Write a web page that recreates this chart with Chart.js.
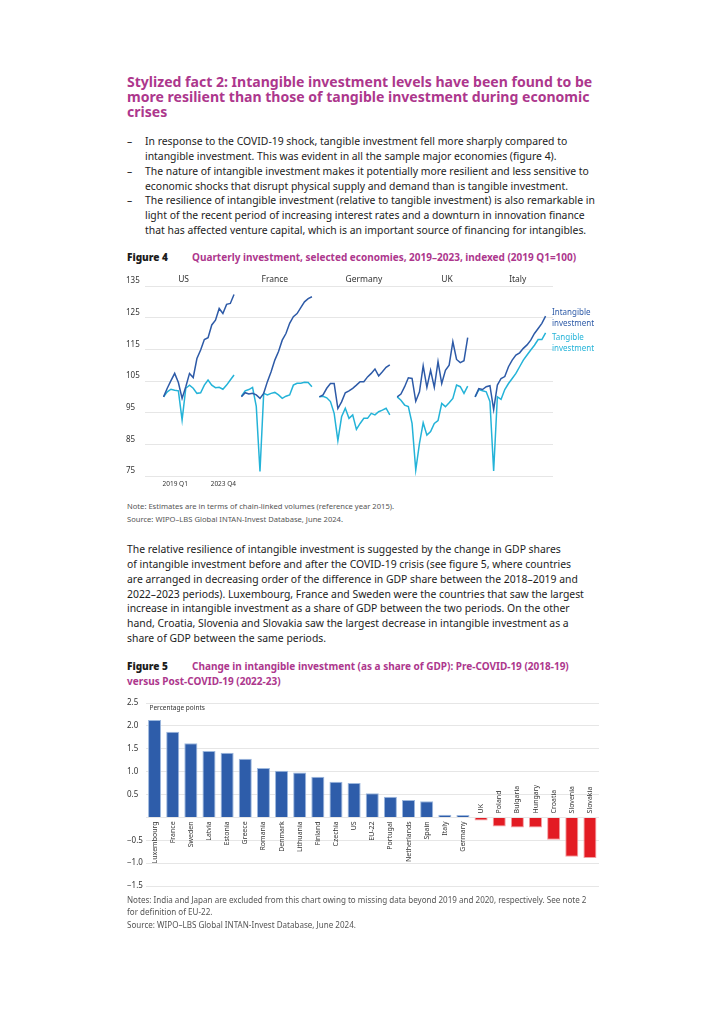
<!DOCTYPE html>
<html>
<head>
<meta charset="utf-8">
<script src="https://cdn.jsdelivr.net/npm/chart.js@4.4.1/dist/chart.umd.min.js"></script>
<style>
body { margin: 0; background: #fff; font-family: "Noto Sans", sans-serif; color: #1c1c1c; }
.page { position: relative; width: 724px; height: 1024px; overflow: hidden; }
.blk { position: absolute; left: 127px; white-space: nowrap; }
.title { top: 74px; font-size: 14.05px; font-weight: bold; line-height: 15px; color: #ad378d; }
.body { font-size: 10.4px; line-height: 14.85px; }
.bullets { top: 134px; }
.bullets div { position: relative; padding-left: 18px; }
.bullets span.d { position: absolute; left: 0; }
.para { top: 542px; }
.cap { font-size: 10px; font-weight: bold; line-height: 15px; }
.cap b { color: #1c1c1c; display: inline-block; width: 65px; }
.cap span { color: #ad378d; }
.note { font-size: 7.6px; color: #555; line-height: 12.5px; }
canvas { position: absolute; }
</style>
</head>
<body>
<div class="page">
  <div class="blk title">
    <div>Stylized fact 2: Intangible investment levels have been found to be</div>
    <div>more resilient than those of tangible investment during economic</div>
    <div>crises</div>
  </div>
  <div class="blk body bullets">
    <div><span class="d">–</span>In response to the COVID-19 shock, tangible investment fell more sharply compared to</div>
    <div>intangible investment. This was evident in all the sample major economies (figure 4).</div>
    <div><span class="d">–</span>The nature of intangible investment makes it potentially more resilient and less sensitive to</div>
    <div>economic shocks that disrupt physical supply and demand than is tangible investment.</div>
    <div><span class="d">–</span>The resilience of intangible investment (relative to tangible investment) is also remarkable in</div>
    <div>light of the recent period of increasing interest rates and a downturn in innovation finance</div>
    <div>that has affected venture capital, which is an important source of financing for intangibles.</div>
  </div>
  <div class="blk cap" style="top:250px"><b>Figure 4</b><span>Quarterly investment, selected economies, 2019–2023, indexed (2019 Q1=100)</span></div>
  <canvas id="fig4" width="480" height="220" style="left:120px;top:270px;width:480px;height:220px"></canvas>
  <div class="blk note" style="top:500px">
    <div>Note: Estimates are in terms of chain-linked volumes (reference year 2015).</div>
    <div>Source: WIPO–LBS Global INTAN-Invest Database, June 2024.</div>
  </div>
  <div class="blk body para">
    <div>The relative resilience of intangible investment is suggested by the change in GDP shares</div>
    <div>of intangible investment before and after the COVID-19 crisis (see figure 5, where countries</div>
    <div>are arranged in decreasing order of the difference in GDP share between the 2018–2019 and</div>
    <div>2022–2023 periods). Luxembourg, France and Sweden were the countries that saw the largest</div>
    <div>increase in intangible investment as a share of GDP between the two periods. On the other</div>
    <div>hand, Croatia, Slovenia and Slovakia saw the largest decrease in intangible investment as a</div>
    <div>share of GDP between the same periods.</div>
  </div>
  <div class="blk cap" style="top:659px">
    <div><b>Figure 5</b><span>Change in intangible investment (as a share of GDP): Pre-COVID-19 (2018-19)</span></div>
    <div><span>versus Post-COVID-19 (2022-23)</span></div>
  </div>
  <canvas id="fig5" width="480" height="200" style="left:120px;top:695px;width:480px;height:200px"></canvas>
  <div class="blk note" style="top:894px;line-height:12px;font-size:8.05px">
    <div>Notes: India and Japan are excluded from this chart owing to missing data beyond 2019 and 2020, respectively. See note 2</div>
    <div>for definition of EU-22.</div>
    <div style="margin-top:1px">Source: WIPO–LBS Global INTAN-Invest Database, June 2024.</div>
  </div>
</div>
<script>
// figure 4 data
const quarterLabels = ["2019 Q1", "2019 Q2", "2019 Q3", "2019 Q4", "2020 Q1", "2020 Q2", "2020 Q3", "2020 Q4",
    "2021 Q1", "2021 Q2", "2021 Q3", "2021 Q4", "2022 Q1", "2022 Q2", "2022 Q3", "2022 Q4",
    "2023 Q1", "2023 Q2", "2023 Q3", "2023 Q4"];
const economies = ["US", "France", "Germany", "UK", "Italy"];

const usIntangible = [100, 102.7, 105.1, 107.4, 104.5, 99.5, 103.2, 107.4, 106.1, 112.1, 114.8, 118.1, 118.7, 122.7, 124.2, 127.9, 126.3, 129.2, 129.5, 132.3];
const usTangible = [100, 101.6, 102.4, 102.1, 101.9, 92.7, 102.7, 103.7, 102.7, 101.1, 101.3, 103.7, 105.3, 103.7, 102.9, 103.0, 102.4, 103.7, 105.3, 106.9];
const franceIntangible = [100, 101.3, 100.9, 101.1, 100.6, 99.5, 101.1, 104.8, 107.9, 111.6, 114.3, 117.9, 120.0, 123.2, 125.3, 126.3, 128.2, 130.0, 131.0, 131.6];
const franceTangible = [100.2, 101.9, 102.3, 103.0, 97.0, 76.4, 101.1, 100.6, 101.1, 101.4, 100.6, 99.5, 100.2, 100.6, 103.7, 104.3, 104.3, 104.6, 104.5, 103.2];
const germanyIntangible = [100, 100.6, 102.7, 104.2, 104.2, 96.3, 98.4, 101.3, 101.9, 102.7, 103.7, 104.8, 104.8, 106.3, 107.4, 108.8, 106.6, 107.9, 109.3, 110.1];
const germanyTangible = [100, 100.2, 99.7, 98.5, 94.8, 86.2, 93.7, 96.4, 93.2, 94.3, 89.7, 91.6, 93.2, 93.2, 94.8, 94.3, 95.3, 95.8, 96.4, 94.3];
const ukIntangible = [100, 100.9, 103.2, 106.0, 105.8, 98.6, 101.6, 109.8, 103.0, 108.4, 103.0, 111.1, 104.2, 108.4, 110.0, 117.4, 111.8, 110.8, 111.4, 118.7];
const ukTangible = [100, 98.9, 97.4, 96.9, 91.6, 76.9, 85.3, 91.8, 87.9, 89.0, 91.6, 92.5, 97.9, 96.9, 98.1, 99.5, 103.7, 103.2, 101.1, 103.4];
const italyIntangible = [100, 102.6, 102.3, 103.2, 103.5, 96.0, 103.7, 105.8, 106.4, 109.5, 111.6, 113.2, 113.9, 115.3, 116.4, 117.9, 120.0, 121.6, 123.2, 125.5];
const italyTangible = [100, 102.3, 101.9, 101.6, 98.5, 76.6, 100, 99.2, 102.3, 104.2, 105.8, 107.4, 109.5, 111.6, 113.2, 114.8, 116.3, 118.1, 118.1, 120.2];

// figure 5 data
const barCountries = ["Luxembourg", "France", "Sweden", "Latvia", "Estonia", "Greece", "Romania", "Denmark", "Lithuania",
    "Finland", "Czechia", "US", "EU-22", "Portugal", "Netherlands", "Spain", "Italy", "Germany", "UK", "Poland",
    "Bulgaria", "Hungary", "Croatia", "Slovenia", "Slovakia"];
const barValues = [2.13, 1.87, 1.62, 1.45, 1.41, 1.28, 1.08, 1.02, 0.98, 0.89, 0.78, 0.75, 0.53, 0.45, 0.38, 0.35,
    0.06, 0.05, -0.07, -0.20, -0.22, -0.22, -0.49, -0.86, -0.89];
const barTicks = [-1.5, -1.0, -0.5, 0, 0.5, 1.0, 1.5, 2.0, 2.5];

const INT_COLOR = "#2d5aa7";
const TAN_COLOR = "#24b3d8";
const TEXT_COLOR = "#333";

// build one long category axis: blanks on the left, a one-slot gap between panels
const LEAD = 5, GAP = 1, TRAIL = 2;
const intangibleSets = [usIntangible, franceIntangible, germanyIntangible, ukIntangible, italyIntangible];
const tangibleSets = [usTangible, franceTangible, germanyTangible, ukTangible, italyTangible];

function buildSeries(sets) {
    let out = [];
    for (let i = 0; i < LEAD; i++) out.push(null);
    sets.forEach(function (s, p) {
        if (p > 0) for (let g = 0; g < GAP; g++) out.push(null);
        out = out.concat(s);
    });
    for (let i = 0; i < TRAIL; i++) out.push(null);
    return out;
}
function buildLabels() {
    let out = [];
    for (let i = 0; i < LEAD; i++) out.push("");
    economies.forEach(function (e, p) {
        if (p > 0) for (let g = 0; g < GAP; g++) out.push("");
        out = out.concat(quarterLabels.map(function (q) { return e + " " + q; }));
    });
    for (let i = 0; i < TRAIL; i++) out.push("");
    return out;
}
function panelStart(p) {
    return LEAD + p * (quarterLabels.length + GAP);
}

// where the economy name sits inside its panel (in quarters from the panel start)
const nameOffsets = [5.4, 9, 12, 13.4, 11.5];

const fig4Labels = {
    id: "fig4Labels",
    afterDraw(chart) {
        const ctx = chart.ctx;
        const x = chart.scales.x;
        const area = chart.chartArea;
        ctx.save();
        ctx.fillStyle = TEXT_COLOR;
        ctx.font = "8.5px 'Noto Sans'";
        ctx.textBaseline = "middle";
        ctx.textAlign = "center";
        economies.forEach(function (e, p) {
            ctx.fillText(e, x.getPixelForValue(panelStart(p) + nameOffsets[p]), 10);
        });
        // first and last quarter under the first panel
        ctx.font = "6.5px 'Noto Sans'";
        ctx.textAlign = "left";
        ctx.fillText(quarterLabels[0], x.getPixelForValue(panelStart(0)) - 1, area.bottom + 8);
        ctx.textAlign = "right";
        ctx.fillText(quarterLabels[quarterLabels.length - 1], x.getPixelForValue(panelStart(0) + quarterLabels.length - 1) + 2, area.bottom + 8);
        // end-of-line labels
        ctx.font = "8px 'Noto Sans'";
        ctx.textAlign = "left";
        const metaI = chart.getDatasetMeta(0).data;
        const metaT = chart.getDatasetMeta(1).data;
        const last = panelStart(economies.length - 1) + quarterLabels.length - 1;
        const yi = metaI[last].y, yt = metaT[last].y;
        ctx.fillStyle = INT_COLOR;
        ctx.fillText("Intangible", area.right - 1, yi - 3);
        ctx.fillText("investment", area.right - 1, yi + 8);
        ctx.fillStyle = TAN_COLOR;
        ctx.fillText("Tangible", area.right - 1, yt + 5);
        ctx.fillText("investment", area.right - 1, yt + 16);
        ctx.restore();
    }
};

new Chart(document.getElementById("fig4"), {
    type: "line",
    data: {
        labels: buildLabels(),
        datasets: [
            { label: "Intangible investment", data: buildSeries(intangibleSets), borderColor: INT_COLOR, borderWidth: 1.5, pointRadius: 0, tension: 0, spanGaps: false },
            { label: "Tangible investment", data: buildSeries(tangibleSets), borderColor: TAN_COLOR, borderWidth: 1.5, pointRadius: 0, tension: 0, spanGaps: false }
        ]
    },
    options: {
        responsive: false,
        animation: false,
        layout: { padding: { left: 6, right: 47, top: 16, bottom: 14 } },
        plugins: { legend: { display: false }, tooltip: { enabled: false } },
        scales: {
            x: {
                ticks: { display: false },
                grid: { display: false },
                border: { display: false },
                afterFit: function (s) { s.height = 0; }
            },
            y: {
                min: 75,
                max: 135,
                ticks: { stepSize: 10, color: TEXT_COLOR, font: { size: 8, family: "Noto Sans" }, crossAlign: "far", labelOffset: -5, padding: 0 },
                grid: { color: "#e6e6e6", drawTicks: false },
                border: { display: false },
                afterFit: function (s) { s.width = 19; }
            }
        }
    },
    plugins: [fig4Labels]
});

// figure 5
const fig5Labels = {
    id: "fig5Labels",
    afterDraw(chart) {
        const ctx = chart.ctx;
        const x = chart.scales.x;
        const y = chart.scales.y;
        const zero = y.getPixelForValue(0);
        ctx.save();
        ctx.fillStyle = TEXT_COLOR;
        ctx.font = "6.5px 'Noto Sans'";
        ctx.textBaseline = "middle";
        ctx.textAlign = "left";
        ctx.fillText("Percentage points", chart.chartArea.left + 4, chart.chartArea.top + 5);
        ctx.font = "7px 'Noto Sans'";
        barCountries.forEach(function (c, i) {
            const px = x.getPixelForValue(i);
            ctx.save();
            ctx.translate(px, barValues[i] >= 0 ? zero + 4 : zero - 4);
            ctx.rotate(-Math.PI / 2);
            ctx.textAlign = barValues[i] >= 0 ? "right" : "left";
            ctx.fillText(c, 0, 0);
            ctx.restore();
        });
        ctx.restore();
    }
};

new Chart(document.getElementById("fig5"), {
    type: "bar",
    data: {
        labels: barCountries,
        datasets: [{
            data: barValues,
            backgroundColor: barValues.map(function (v) { return v < 0 ? "#e31b23" : "#2e5daa"; }),
            borderColor: barValues.map(function (v) { return v < 0 ? "#f2a0a3" : "#9db8de"; }),
            borderWidth: 1,
            barPercentage: 0.72,
            categoryPercentage: 1
        }]
    },
    options: {
        responsive: false,
        animation: false,
        layout: { padding: { left: 7, right: 1, top: 8, bottom: 9 } },
        plugins: { legend: { display: false }, tooltip: { enabled: false } },
        scales: {
            x: {
                ticks: { display: false },
                grid: { display: false },
                border: { display: false },
                afterFit: function (s) { s.height = 0; }
            },
            y: {
                min: barTicks[0],
                max: barTicks[barTicks.length - 1],
                afterBuildTicks: function (s) { s.ticks = barTicks.map(function (v) { return { value: v }; }); },
                ticks: {
                    color: TEXT_COLOR,
                    font: { size: 8, family: "Noto Sans" },
                    crossAlign: "far",
                    padding: 0,
                    callback: function (v) { return v === 0 ? "" : v.toFixed(1).replace("-", "−"); }
                },
                grid: { color: "#e6e6e6", drawTicks: false },
                border: { display: false },
                afterFit: function (s) { s.width = 18.5; }
            }
        }
    },
    plugins: [fig5Labels]
});
</script>
</body>
</html>
